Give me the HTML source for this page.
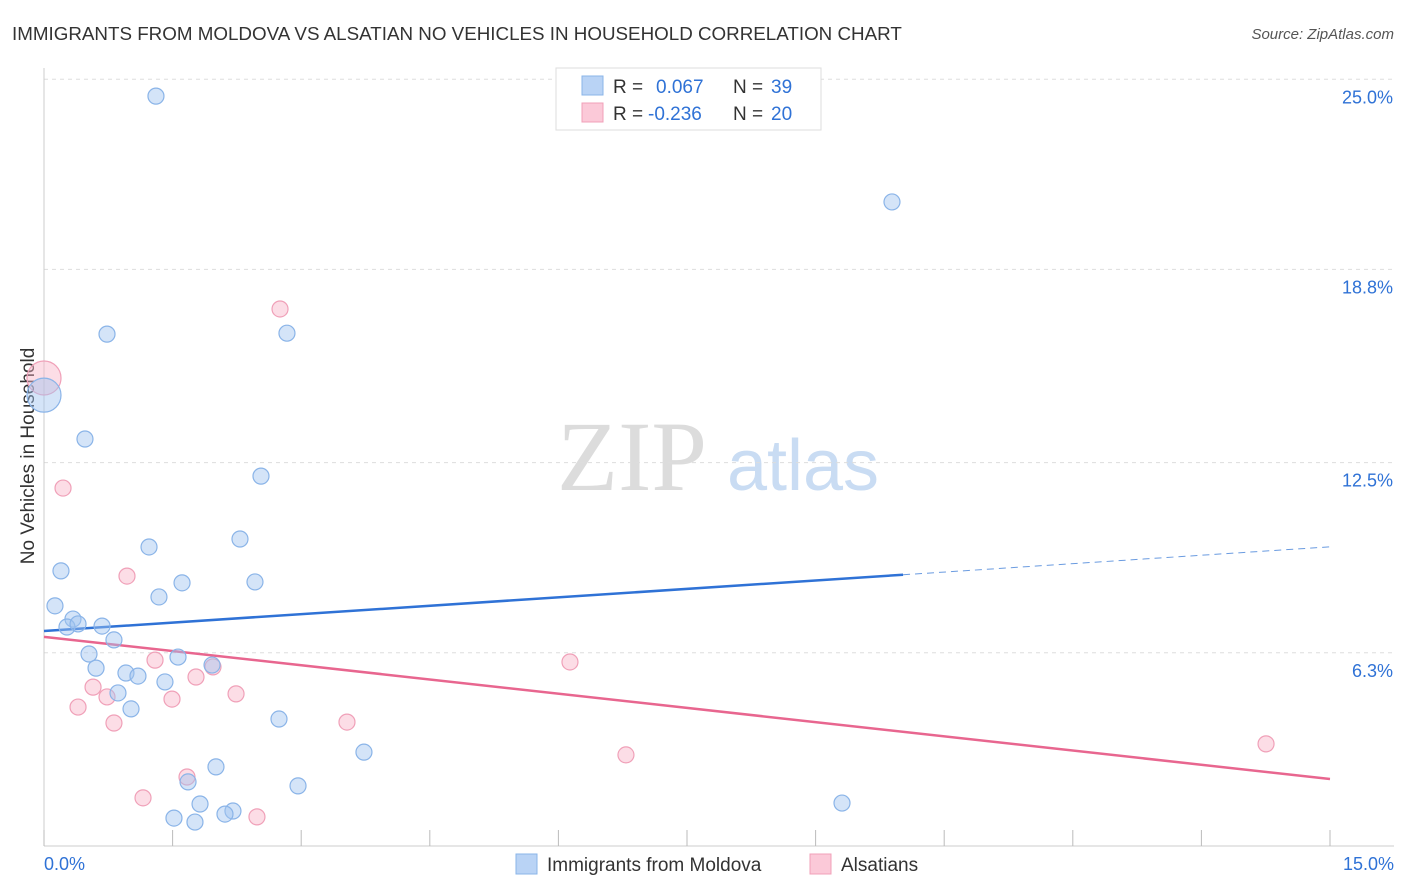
<!DOCTYPE html>
<html><head><meta charset="utf-8">
<style>
body{margin:0;background:#fff;font-family:"Liberation Sans",sans-serif;}
#wrap{position:relative;width:1406px;height:892px;overflow:hidden;}
</style></head>
<body>
<div id="wrap">
<svg id="chart" width="1406" height="892" font-family="Liberation Sans, sans-serif">
<text x="12" y="40" font-size="18.8" fill="#333">IMMIGRANTS FROM MOLDOVA VS ALSATIAN NO VEHICLES IN HOUSEHOLD CORRELATION CHART</text>
<text x="1394" y="39" font-size="15" fill="#555" font-style="italic" text-anchor="end">Source: ZipAtlas.com</text>
<text x="34" y="456" font-size="19" fill="#333" text-anchor="middle" transform="rotate(-90 34 456)">No Vehicles in Household</text>
<g>
<text x="632" y="490" font-size="100" fill="#dcdcdc" font-family="Liberation Serif, serif" text-anchor="middle">ZIP</text>
<text x="803" y="490" font-size="72" fill="#c9dcf3" text-anchor="middle">atlas</text>
</g>
<g id="grid"></g><g id="axes"></g><g id="trends"></g><g id="points"></g>
<g>
<rect x="556" y="68" width="265" height="62" fill="#fff" stroke="#ddd"/>
<rect x="582" y="76" width="21" height="19" fill="#b9d3f5" stroke="#8ab4e8"/>
<text x="613" y="93" font-size="19" fill="#333">R = </text><text x="656" y="93" font-size="19" fill="#2f72d6">0.067</text>
<text x="733" y="93" font-size="19" fill="#333">N = </text><text x="771" y="93" font-size="19" fill="#2f72d6">39</text>
<rect x="582" y="103" width="21" height="19" fill="#fbc9d8" stroke="#f0a0b8"/>
<text x="613" y="120" font-size="19" fill="#333">R = </text><text x="648" y="120" font-size="19" fill="#2f72d6">-0.236</text>
<text x="733" y="120" font-size="19" fill="#333">N = </text><text x="771" y="120" font-size="19" fill="#2f72d6">20</text>
</g>
<g>
<rect x="516" y="854" width="21" height="20" fill="#b9d3f5" stroke="#8ab4e8"/>
<text x="547" y="871" font-size="19" fill="#333">Immigrants from Moldova</text>
<rect x="810" y="854" width="21" height="20" fill="#fbc9d8" stroke="#f0a0b8"/>
<text x="841" y="871" font-size="19" fill="#333">Alsatians</text>
</g>
</svg>
</div>
<script>
const blueX=[1.306,9.891,0.735,2.834,0,0.478,2.531,2.286,1.225,0.198,1.610,2.461,1.341,0.128,0.338,0.268,0.397,0.677,0.816,0.525,1.563,0.607,1.960,0.956,1.096,1.411,0.863,1.015,2.741,3.732,2.006,1.680,2.963,1.820,2.204,2.111,1.516,1.761,9.308];
const blueY=[24.45,21.0,16.69,16.72,14.70,13.27,12.06,10.01,9.75,8.97,8.58,8.61,8.12,7.83,7.40,7.14,7.24,7.17,6.72,6.26,6.16,5.80,5.90,5.64,5.54,5.35,4.99,4.47,4.14,3.06,2.58,2.09,1.96,1.37,1.14,1.04,0.91,0.78,1.40];
const pinkX=[0,0.222,0.968,2.753,1.295,6.135,1.971,0.572,1.773,2.240,0.735,1.493,0.397,0.816,3.534,6.788,14.254,1.668,1.155,2.484];
const pinkY=[15.26,11.67,8.80,17.51,6.06,6.00,5.84,5.18,5.51,4.96,4.86,4.79,4.53,4.01,4.04,2.97,3.33,2.25,1.57,0.95];
const blueTrend=[7.01,0.183];
const pinkTrend=[6.82,-0.309];
const yTicks=[25.0,18.8,12.5,6.3];
const yTickLabels=["25.0%","18.8%","12.5%","6.3%"];
const xTickCount=10;
const NS="http://www.w3.org/2000/svg";
const X0=44,X1=1330,Y0=846,PPY=30.67;
const sx=v=>X0+(v/15)*(X1-X0);
const sy=v=>Y0-v*PPY;
function mk(tag,attrs,parent){const e=document.createElementNS(NS,tag);for(const k in attrs)e.setAttribute(k,attrs[k]);document.getElementById(parent).appendChild(e);return e;}
yTicks.forEach((t,i)=>{
  const l=mk('line',{x1:X0,x2:1394,y1:sy(t),y2:sy(t),stroke:'#ddd','stroke-dasharray':'4,4'},'grid');
  
  
  const tx=mk('text',{x:1393,y:sy(t)+24,'font-size':18,fill:'#2f72d6','text-anchor':'end'},'grid');
  tx.textContent=yTickLabels[i];
  
  
});
const ya=mk('line',{x1:X0,x2:X0,y1:68,y2:846,stroke:'#ccc'},'axes');


const xa=mk('line',{x1:X0,x2:1394,y1:846,y2:846,stroke:'#ccc'},'axes');


for(let i=0;i<=xTickCount;i++){
  const v=15*i/xTickCount;
  const t=mk('line',{x1:sx(v),x2:sx(v),y1:830,y2:846,stroke:'#bbb'},'axes');
  
  
}
const xl0=mk('text',{x:44,y:870,'font-size':18,fill:'#2f72d6'},'axes');xl0.textContent='0.0%';


const xl1=mk('text',{x:1394,y:870,'font-size':18,fill:'#2f72d6','text-anchor':'end'},'axes');xl1.textContent='15.0%';


const bEnd=10.02;
const bl=mk('line',{x1:sx(0),y1:sy(blueTrend[0]),x2:sx(bEnd),y2:sy(blueTrend[0]+blueTrend[1]*bEnd),stroke:'#2f72d6','stroke-width':2.5},'trends');


const bd=mk('line',{x1:sx(bEnd),y1:sy(blueTrend[0]+blueTrend[1]*bEnd),x2:sx(15),y2:sy(blueTrend[0]+blueTrend[1]*15),stroke:'#6a9be0','stroke-width':1,'stroke-dasharray':'7,5'},'trends');


const pl=mk('line',{x1:sx(0),y1:sy(pinkTrend[0]),x2:sx(15),y2:sy(pinkTrend[0]+pinkTrend[1]*15),stroke:'#e8668f','stroke-width':2.5},'trends');


pinkX.forEach((x,i)=>{
  const c=mk('circle',{cx:sx(x),cy:sy(pinkY[i]),r:(x===0?17:8),fill:'rgba(248,180,200,0.45)',stroke:'#f0a0b8','stroke-width':1.2},'points');
  
  
});
blueX.forEach((x,i)=>{
  const c=mk('circle',{cx:sx(x),cy:sy(blueY[i]),r:(x===0?17:8),fill:'rgba(160,196,240,0.45)',stroke:'#8ab4e8','stroke-width':1.2},'points');
  
  
});
</script>
</body></html>
